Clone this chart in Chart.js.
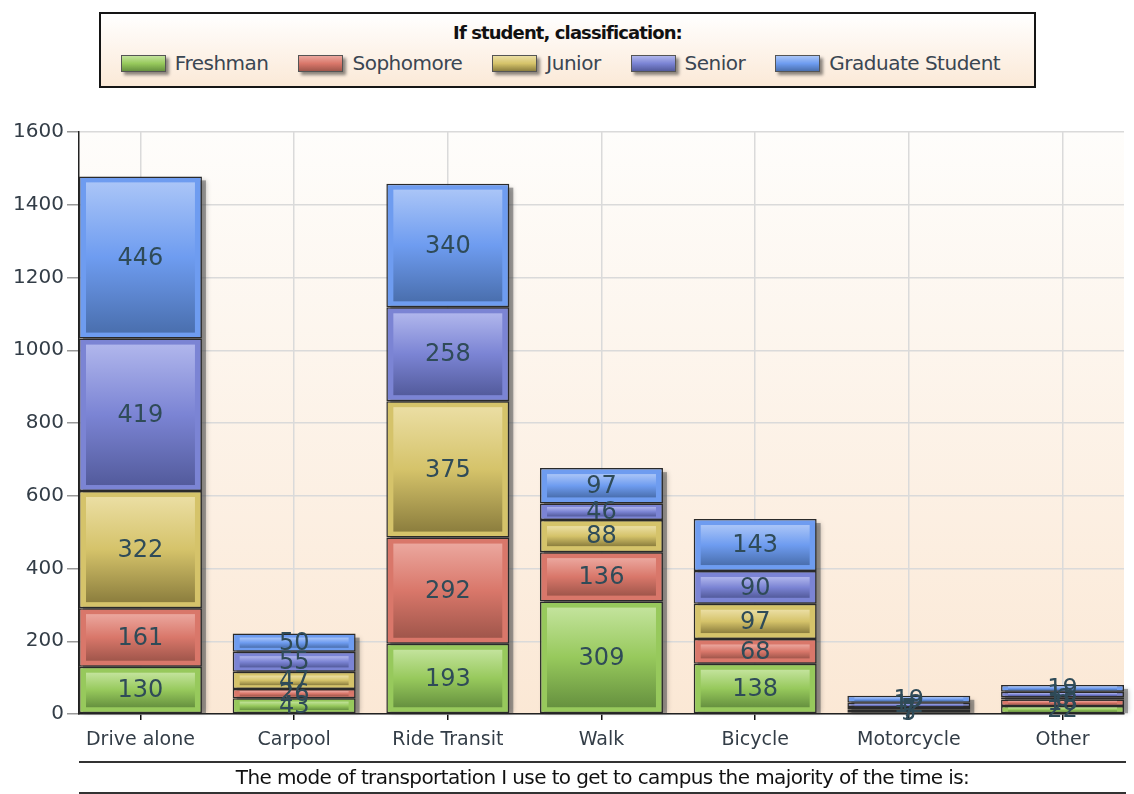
<!DOCTYPE html>
<html>
<head>
<meta charset="utf-8">
<script src="https://cdn.jsdelivr.net/npm/chart.js@4/dist/chart.umd.min.js"></script>
<style>
  body { margin: 0; background: #fff; width: 1134px; height: 794px; overflow: hidden; position: relative; font-family: "DejaVu Sans", sans-serif; }
  #myChart { position: absolute; left: 0; top: 0; }
  #legend { position: absolute; left: 99px; top: 12px; width: 933px; height: 72px; border: 2px solid #151515;
    background: linear-gradient(#ffffff, #fbe9d7); }
  #legend .title { text-align: center; font-weight: bold; font-size: 18px; margin-top: 8px; letter-spacing: -0.9px; color: #111; }
  #legend .row { display: flex; justify-content: center; gap: 30px; margin-top: 8px; padding-right: 14px; }
  #legend .item { display: flex; align-items: center; font-size: 20px; color: #3a4652; letter-spacing: -0.5px; }
  #legend .sw { width: 43px; height: 15px; border: 1px solid #555; margin-right: 9px; box-shadow: 3px 3px 3px rgba(0,0,0,0.45); }
  #xtitle { position: absolute; left: 79px; top: 761px; width: 1047px; height: 29px; border-top: 2px solid #333; border-bottom: 2px solid #333;
    text-align: center; line-height: 29px; font-size: 20px; color: #111; letter-spacing: -0.6px; }
</style>
</head>
<body>
<canvas id="myChart" width="1134" height="794"></canvas>
<div id="legend">
  <div class="title">If student, classification:</div>
  <div class="row" id="legendRow"></div>
</div>
<div id="xtitle">The mode of transportation I use to get to campus the majority of the time is:</div>
<script>
const categories = ['Drive alone', 'Carpool', 'Ride Transit', 'Walk', 'Bicycle', 'Motorcycle', 'Other'];
const seriesNames = ['Freshman', 'Sophomore', 'Junior', 'Senior', 'Graduate Student'];
const freshman  = [130, 43, 193, 309, 138, 5, 22];
const sophomore = [161, 26, 292, 136, 68, 7, 18];
const junior    = [322, 47, 375, 88, 97, 7, 6];
const senior    = [419, 55, 258, 46, 90, 12, 15];
const graduate  = [446, 50, 340, 97, 143, 19, 19];
const yTicks = [0, 200, 400, 600, 800, 1000, 1200, 1400, 1600];

// base, light, dark
const colors = [
  ['#97c95c', '#c3e39c', '#66913f'],
  ['#d9776a', '#eba79e', '#a0564b'],
  ['#d5c36a', '#ebdea3', '#8c7e3e'],
  ['#7b84d4', '#b0b6ec', '#535b9c'],
  ['#6e9cf0', '#aac5f7', '#4a6fae']
];

const allSeries = [freshman, sophomore, junior, senior, graduate];

// legend
const row = document.getElementById('legendRow');
seriesNames.forEach((name, i) => {
  const it = document.createElement('div');
  it.className = 'item';
  const sw = document.createElement('div');
  sw.className = 'sw';
  sw.style.background = 'linear-gradient(' + colors[i][1] + ',' + colors[i][0] + ' 50%,' + colors[i][2] + ')';
  it.appendChild(sw);
  it.appendChild(document.createTextNode(name));
  row.appendChild(it);
});

const bgPlugin = {
  id: 'plotBg',
  beforeDraw(chart) {
    const { ctx, chartArea: a } = chart;
    const g = ctx.createLinearGradient(0, a.top, 0, a.bottom);
    g.addColorStop(0, '#fefdfb');
    g.addColorStop(1, '#fbe8d5');
    ctx.save();
    ctx.fillStyle = g;
    ctx.fillRect(a.left, a.top, a.right - a.left, a.bottom - a.top);
    ctx.restore();
  }
};

const barDeco = {
  id: 'barDeco',
  beforeDatasetsDraw(chart) {
    const ctx = chart.ctx;
    const first = chart.getDatasetMeta(0).data;
    ctx.save();
    first.forEach((el, i) => {
      let top = el.y;
      chart.data.datasets.forEach((d, di) => {
        const e = chart.getDatasetMeta(di).data[i];
        top = Math.min(top, e.y);
      });
      const w = el.width;
      ctx.shadowColor = 'rgba(0,0,0,0.5)';
      ctx.shadowBlur = 5;
      ctx.fillStyle = 'rgba(90,90,90,0.55)';
      ctx.fillRect(el.x - w / 2 + 4, top + 4, w, el.base - top - 4);
    });
    ctx.restore();
  },
  afterDatasetsDraw(chart) {
    const ctx = chart.ctx;
    ctx.save();
    chart.data.datasets.forEach((d, di) => {
      const c = colors[di];
      chart.getDatasetMeta(di).data.forEach((el) => {
        const top = Math.min(el.y, el.base), bot = Math.max(el.y, el.base);
        const h = bot - top;
        const ix = 7, iy = Math.min(6, h * 0.22);
        if (h < 4) return;
        const g = ctx.createLinearGradient(0, top + iy, 0, bot - iy);
        g.addColorStop(0, c[1]);
        g.addColorStop(0.5, c[0]);
        g.addColorStop(1, c[2]);
        ctx.fillStyle = g;
        ctx.fillRect(el.x - el.width / 2 + ix, top + iy, el.width - 2 * ix, h - 2 * iy);
      });
    });
    // value labels
    ctx.font = '24px "DejaVu Sans"';
    ctx.fillStyle = '#2f4b58';
    ctx.textAlign = 'center';
    ctx.textBaseline = 'middle';
    chart.data.datasets.forEach((d, di) => {
      chart.getDatasetMeta(di).data.forEach((el, i) => {
        const v = d.data[i].y;
        ctx.fillText(String(v), el.x, (el.y + el.base) / 2 + 1);
      });
    });
    ctx.restore();
  }
};

const data = {
  datasets: allSeries.map((vals, i) => ({
    label: seriesNames[i],
    data: vals.map((v, k) => ({ x: k, y: v })),
    backgroundColor: colors[i][0],
    borderColor: '#2a2a2a',
    borderWidth: 1.5,
    borderSkipped: false,
    categoryPercentage: 0.8,
    barPercentage: 1.0
  }))
};

const config = {
  type: 'bar',
  data: data,
  options: {
    responsive: false,
    animation: false,
    layout: { padding: { top: 132, right: 10, left: 0, bottom: 0 } },
    plugins: { legend: { display: false }, tooltip: { enabled: false } },
    scales: {
      x: {
        type: 'linear',
        stacked: true,
        min: -0.4,
        max: 6.4,
        offset: false,
        afterFit(s) { s.height = 80; },
        grid: { offset: false, color: '#dadada', lineWidth: 1.5, tickLength: 6, tickColor: '#111' },
        border: { color: '#222', width: 1.5 },
        ticks: {
          stepSize: 1,
          includeBounds: false,
          autoSkip: false,
          maxRotation: 0,
          padding: 9,
          color: '#333d47',
          font: { family: 'DejaVu Sans', size: 19 },
          callback: (v) => Number.isInteger(v) ? categories[v] : ''
        }
      },
      y: {
        stacked: true,
        min: 0,
        max: 1600,
        afterFit(s) { s.width = 79; },
        afterBuildTicks(s) { s.ticks = yTicks.map(v => ({ value: v })); },
        grid: { color: '#dadada', lineWidth: 1.5, tickLength: 12, tickColor: '#999' },
        border: { color: '#222', width: 1.5 },
        ticks: {
          padding: 3,
          color: '#333d47',
          font: { family: 'DejaVu Sans', size: 20 },
          callback: (v) => String(v)
        }
      }
    }
  },
  plugins: [bgPlugin, barDeco]
};

const myChart = new Chart(document.getElementById('myChart'), config);
</script>
</body>
</html>
